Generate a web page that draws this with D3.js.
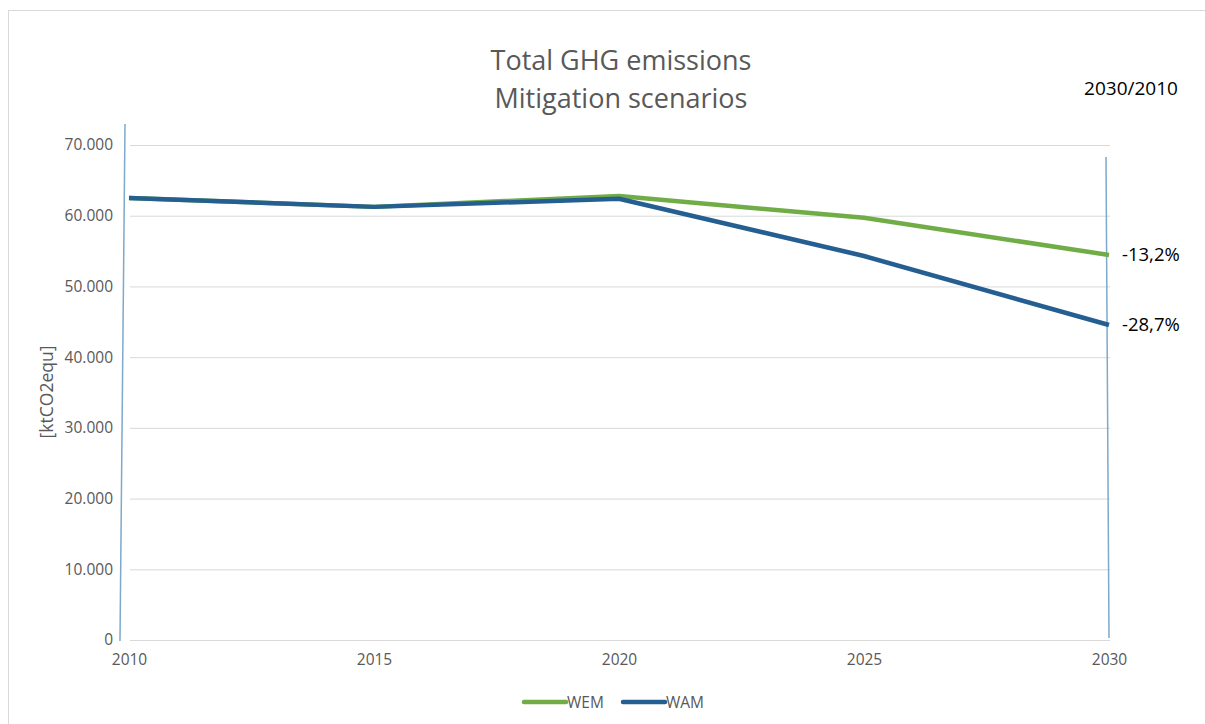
<!DOCTYPE html>
<html>
<head>
<meta charset="utf-8">
<script src="https://cdn.jsdelivr.net/npm/d3@7"></script>
<style>
  body { margin: 0; background: #fff; }
  text { font-family: "Open Sans", Lato, sans-serif; }
</style>
</head>
<body>
<svg id="chart" width="1205" height="724"></svg>
<script>
// data
const years = [2010, 2015, 2020, 2025, 2030];
const wem = [62500, 61250, 62800, 59700, 54450];
const wam = [62500, 61250, 62400, 54300, 44550];
const yTicks = [0, 10000, 20000, 30000, 40000, 50000, 60000, 70000];
const changeLabels = ["-13,2%", "-28,7%"];

const svg = d3.select("#chart"),
    width = +svg.attr("width"),
    height = +svg.attr("height");

const x = d3.scaleLinear().domain([2010, 2030]).range([129, 1109]);
const y = d3.scaleLinear().domain([0, 70000]).range([640, 145]);

// outer frame (only top and left edges show)
svg.append("rect")
    .attr("x", 8.5).attr("y", 10.5)
    .attr("width", 1300).attr("height", 800)
    .attr("fill", "none")
    .attr("stroke", "#d9d9d9");

// titles
const title = svg.append("text")
    .attr("text-anchor", "middle")
    .attr("fill", "#595959")
    .style("font-size", "27px");
title.append("tspan").attr("x", 621).attr("y", 70).text("Total GHG emissions");
title.append("tspan").attr("x", 621).attr("y", 108).text("Mitigation scenarios");

svg.append("text")
    .attr("x", 1131).attr("y", 95)
    .attr("text-anchor", "middle")
    .style("font-size", "19px")
    .attr("fill", "#000")
    .text("2030/2010");

// gridlines
svg.append("g")
    .attr("class", "grid")
    .selectAll("line")
    .data(yTicks)
    .join("line")
    .attr("x1", 130).attr("x2", 1110)
    .attr("y1", d => y(d) + 0.5).attr("y2", d => y(d) + 0.5)
    .attr("stroke", "#d9d9d9");

// y axis
const fmt = d => d === 0 ? "0" : d3.format(",")(d).replace(/,/g, ".");
const yAxis = svg.append("g")
    .attr("transform", "translate(113,0)")
    .call(d3.axisLeft(y).tickValues(yTicks).tickFormat(fmt).tickSize(0).tickPadding(0));
yAxis.select(".domain").remove();
yAxis.selectAll("text")
    .attr("fill", "#595959")
    .style("font-size", "15.5px")
    .style("font-family", "'Open Sans', Lato, sans-serif");

// x axis
const xAxis = svg.append("g")
    .attr("transform", "translate(0,654)")
    .call(d3.axisBottom(x).tickValues(years).tickFormat(d3.format("d")).tickSize(0).tickPadding(0));
xAxis.select(".domain").remove();
xAxis.selectAll("text")
    .attr("fill", "#595959")
    .style("font-size", "15.5px")
    .style("font-family", "'Open Sans', Lato, sans-serif");

// y axis title
svg.append("text")
    .attr("transform", "translate(47,392) rotate(-90)")
    .attr("text-anchor", "middle")
    .attr("dy", "0.35em")
    .attr("fill", "#595959")
    .style("font-size", "17.5px")
    .text("[ktCO2equ]");

// hand-drawn vertical markers
svg.append("line")
    .attr("x1", 125).attr("y1", 124).attr("x2", 120).attr("y2", 641)
    .attr("stroke", "#7ea9cc").attr("stroke-width", 1.5);
svg.append("line")
    .attr("x1", 1106).attr("y1", 157).attr("x2", 1109).attr("y2", 638)
    .attr("stroke", "#7ea9cc").attr("stroke-width", 1.5);

// lines
const line = d3.line()
    .x((d, i) => x(years[i]))
    .y(d => y(d));

const series = [
    { name: "WEM", values: wem, color: "#70ad47" },
    { name: "WAM", values: wam, color: "#255e91" }
];

svg.append("g")
    .selectAll("path")
    .data(series)
    .join("path")
    .attr("d", d => line(d.values))
    .attr("fill", "none")
    .attr("stroke", d => d.color)
    .attr("stroke-width", 4.5)
    .attr("stroke-linejoin", "round");

// change labels at 2030
svg.append("g")
    .selectAll("text")
    .data(series)
    .join("text")
    .attr("x", x(2030) + 13)
    .attr("y", d => y(d.values[4]) + 6)
    .style("font-size", "18.5px")
    .attr("fill", "#000")
    .text((d, i) => changeLabels[i]);

// legend
const legend = svg.append("g")
    .selectAll("g")
    .data(series)
    .join("g")
    .attr("transform", (d, i) => `translate(${524 + i * 99},702)`);
legend.append("line")
    .attr("x1", 0).attr("x2", 42)
    .attr("stroke", d => d.color)
    .attr("stroke-width", 4.5)
    .attr("stroke-linecap", "round");
legend.append("text")
    .attr("x", 43).attr("y", 6)
    .attr("fill", "#595959")
    .style("font-size", "15.5px")
    .text(d => d.name);
</script>
</body>
</html>
